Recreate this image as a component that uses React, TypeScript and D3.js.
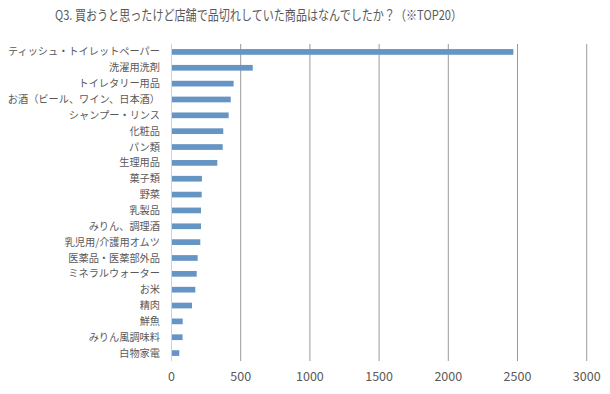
import React, { useEffect, useRef } from "react";
import * as d3 from "d3";

const title = "Q3. 買おうと思ったけど店舗で品切れしていた商品はなんでしたか？（※TOP20）";

const categories = [
  "ティッシュ・トイレットペーパー",
  "洗濯用洗剤",
  "トイレタリー用品",
  "お酒（ビール、ワイン、日本酒）",
  "シャンプー・リンス",
  "化粧品",
  "パン類",
  "生理用品",
  "菓子類",
  "野菜",
  "乳製品",
  "みりん、調理酒",
  "乳児用/介護用オムツ",
  "医薬品・医薬部外品",
  "ミネラルウォーター",
  "お米",
  "精肉",
  "鮮魚",
  "みりん風調味料",
  "白物家電",
];

const values = [2470, 587, 449, 428, 413, 374, 370, 331, 220, 218, 213, 213, 208, 189, 182, 172, 148, 81, 80, 56];

const ticks = [0, 500, 1000, 1500, 2000, 2500, 3000];

const font = "'Noto Sans CJK JP', 'Noto Sans', sans-serif";

export default function App() {
  const ref = useRef<SVGSVGElement>(null);

  useEffect(() => {
    const svg = d3.select(ref.current);
    svg.selectAll("*").remove();

    const left = 171.5;
    const right = 586.7;
    const top = 44;
    const bottom = 361;

    const x = d3.scaleLinear().domain([0, 3000]).range([left, right]);
    const y = d3.scaleBand().domain(categories).range([top, bottom]).paddingInner(0.64).paddingOuter(0.32);

    svg.append("rect").attr("width", 610).attr("height", 394).attr("fill", "#fff");

    svg.append("text")
      .attr("x", 55)
      .attr("y", 20)
      .attr("font-family", font)
      .attr("font-size", 13.5)
      .attr("textLength", 407)
      .attr("lengthAdjust", "spacingAndGlyphs")
      .attr("fill", "#595959")
      .text(title);

    // gridlines
    svg.append("g")
      .selectAll("line")
      .data(ticks.slice(1))
      .enter()
      .append("line")
      .attr("x1", d => x(d))
      .attr("x2", d => x(d))
      .attr("y1", top)
      .attr("y2", bottom)
      .attr("stroke", "#9a9a9a")
      .attr("stroke-width", 1);

    // bars
    svg.append("g")
      .selectAll("rect")
      .data(values)
      .enter()
      .append("rect")
      .attr("x", x(0))
      .attr("y", (d, i) => y(categories[i])!)
      .attr("width", d => x(d) - x(0))
      .attr("height", y.bandwidth())
      .attr("fill", "#6595c5");

    // zero axis
    svg.append("line")
      .attr("x1", x(0))
      .attr("x2", x(0))
      .attr("y1", top)
      .attr("y2", bottom)
      .attr("stroke", "#c9d3dd")
      .attr("stroke-width", 1);

    // category labels
    svg.append("g")
      .selectAll("text")
      .data(categories)
      .enter()
      .append("text")
      .attr("x", 160)
      .attr("y", d => y(d)! + y.bandwidth() / 2)
      .attr("dy", "0.35em")
      .attr("text-anchor", "end")
      .attr("font-family", font)
      .attr("font-size", 10.2)
      .attr("fill", "#595959")
      .text(d => d);

    // tick labels
    svg.append("g")
      .selectAll("text")
      .data(ticks)
      .enter()
      .append("text")
      .attr("x", d => x(d))
      .attr("y", 377)
      .attr("dy", "0.35em")
      .attr("text-anchor", "middle")
      .attr("font-family", font)
      .attr("font-size", 12.5)
      .attr("fill", "#595959")
      .text(d => String(d));
  }, []);

  return (
    <svg
      ref={ref}
      width={610}
      height={394}
      style={{ position: "absolute", left: 0, top: 0 }}
    />
  );
}
